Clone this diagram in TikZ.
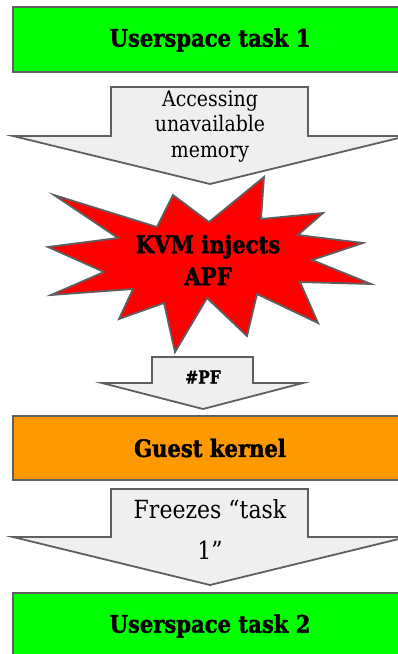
\documentclass[tikz,border=0pt]{standalone}
\usepackage{fontspec}
\setmainfont{DejaVu Serif}[FakeStretch=0.88, BoldFeatures={FakeBold=1.6}]
\definecolor{taskgreen}{HTML}{00FF00}
\definecolor{kernelorange}{HTML}{FF9900}
\definecolor{burstred}{HTML}{FF0000}
\definecolor{arrowfill}{HTML}{EFEFEF}
\definecolor{edgegray}{HTML}{5F5F5F}
\begin{document}
\begin{tikzpicture}[x=1pt,y=-1pt,
  outline/.style={draw=edgegray, line width=1.8pt, line join=miter},
  layerbox/.style={outline},
  blockarrow/.style={outline, fill=arrowfill},
  boldlabel/.style={font=\bfseries\fontsize{24}{28}\selectfont, align=center, inner sep=0pt},
  arrowlabel/.style={align=center, inner sep=0pt}]
\useasboundingbox (0,0) rectangle (398,654);
\clip (0,0) rectangle (398,654);

% layers
\path[layerbox, fill=taskgreen] (13,7) rectangle (410,72);
\node[boldlabel] (task1) at (210,40) {Userspace task 1};

\path[layerbox, fill=kernelorange] (13,416) rectangle (410,480);
\node[boldlabel] (kernel) at (210,448) {Guest kernel};

\path[layerbox, fill=taskgreen] (13,593) rectangle (410,670);
\node[boldlabel] (task2) at (210,626) {Userspace task 2};

% block arrow: access from task 1
\path[blockarrow] (111,87) -- (308,87) -- (308,136) -- (407,136) -- (210,184)
  -- (13,136) -- (111,136) -- cycle;
\node[arrowlabel, font=\fontsize{21.5}{25.5}\selectfont] (access) at (210,126)
  {Accessing\\unavailable\\memory};

% the injected async page fault
\path[outline, fill=burstred]
  (54,195) -- (157,227) -- (173,195) -- (209,222) -- (264,177) -- (261,219)
  -- (323,213) -- (298,235) -- (363,243) -- (312,260) -- (371,284) -- (300,282)
  -- (318,323) -- (257,294) -- (247,336) -- (207,298) -- (175,352) -- (164,303)
  -- (119,319) -- (133,289) -- (51,295) -- (104,272) -- (48,247) -- (118,238)
  -- cycle;
\node[boldlabel, font=\bfseries\fontsize{24}{32}\selectfont] (apf) at (208,260)
  {KVM injects\\APF};

% block arrow: #PF into the guest
\path[blockarrow] (152,357) -- (253,357) -- (253,383) -- (303,383) -- (203,409)
  -- (102,383) -- (152,383) -- cycle;
\node[boldlabel, font=\bfseries\fontsize{17.5}{20}\selectfont] (pf) at (203,377) {\#PF};

% block arrow: kernel switches tasks
\path[blockarrow] (111,489) -- (308,489) -- (308,537) -- (407,537) -- (210,585)
  -- (13,537) -- (111,537) -- cycle;
\node[arrowlabel, font=\fontsize{25}{41}\selectfont] (freeze) at (210,529)
  {Freezes “task\\1”};
\end{tikzpicture}
\end{document}
